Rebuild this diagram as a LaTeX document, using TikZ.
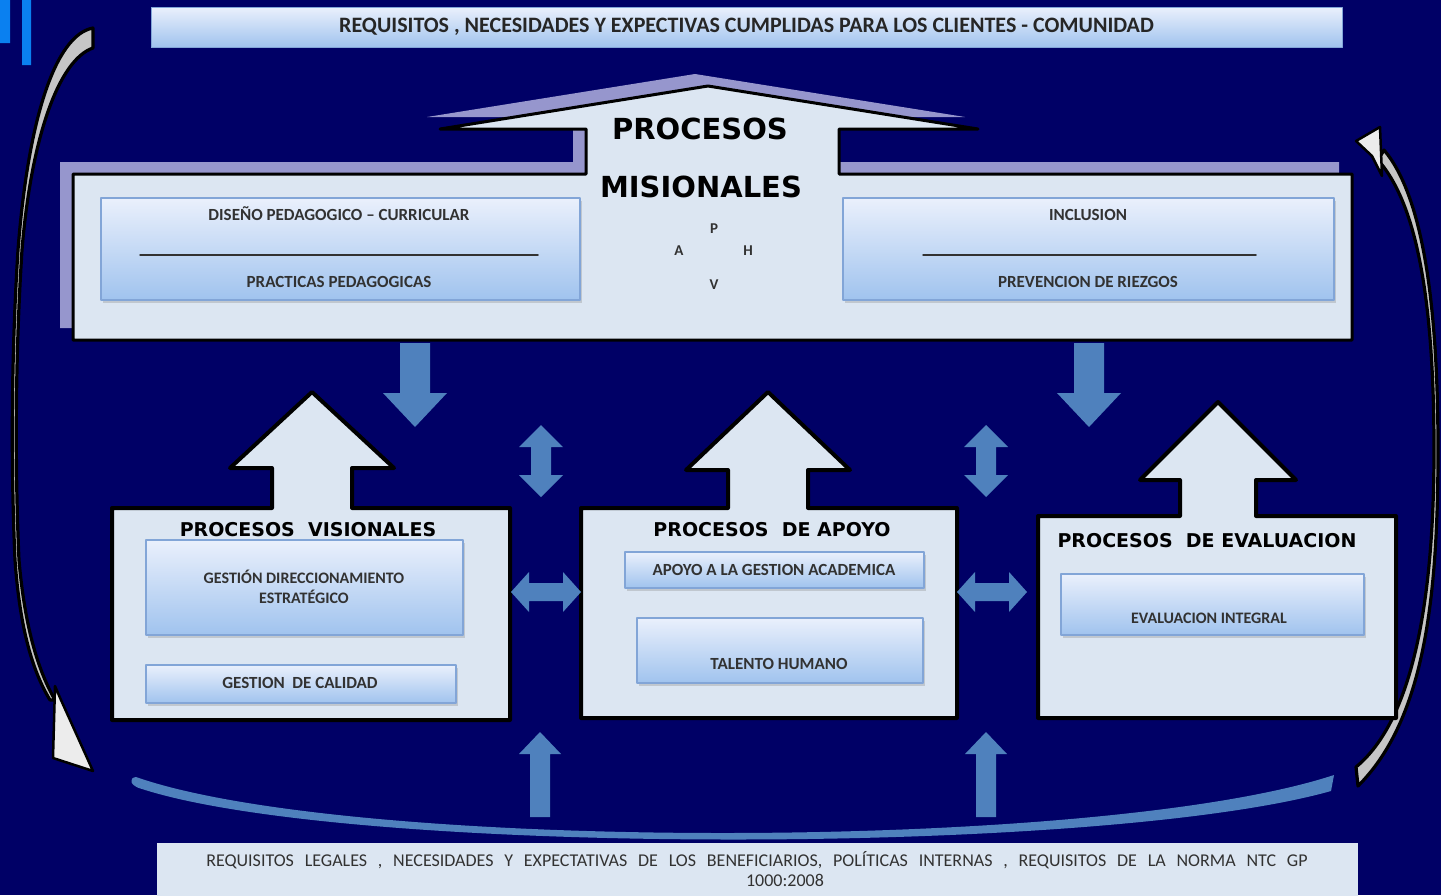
\documentclass[tikz,border=0pt]{standalone}
\usepackage{fontspec}
\setmainfont{Carlito}
\newfontfamily\titfont{DejaVu Sans}
\usetikzlibrary{shadows}
\definecolor{fondo}{RGB}{0,0,102}
\definecolor{claro}{RGB}{220,230,242}
\definecolor{acero}{RGB}{79,129,189}
\definecolor{lila}{RGB}{150,150,205}
\definecolor{celeste}{RGB}{10,128,240}
\definecolor{gradsup}{RGB}{234,240,252}
\definecolor{gradinf}{RGB}{160,195,238}
\definecolor{bordeazul}{RGB}{130,165,215}
\definecolor{texto}{RGB}{50,50,50}
\newcommand\espaciado{\spaceskip=.6em\relax}
\begin{document}
\begin{tikzpicture}[x=1pt, y=-1pt, line join=round, line cap=round,
		marco/.style={fill=claro, draw=black, line width=4pt},
		caja/.style 2 args={draw=bordeazul, line width=1.2pt, top color=gradsup, bottom color=gradinf,
			drop shadow={shadow xshift=1.5pt, shadow yshift=-2.5pt, opacity=.3},
			minimum width=#1, minimum height=#2, inner sep=0pt},
		etiq/.style={font=\bfseries\fontsize{17}{19}\selectfont, text=texto, inner sep=0pt, anchor=base},
		titulo/.style={font=\titfont\bfseries\fontsize{19}{22}\selectfont, inner sep=0pt, anchor=base},
		phva/.style={font=\bfseries\fontsize{15}{17}\selectfont, text=texto, inner sep=0pt, anchor=base},
		curva/.style={fill=gray!45, draw=black, line width=2.5pt},
		flecha/.style={fill=acero}]
		\useasboundingbox (0,0) rectangle (1441,895);
		\fill[fondo] (0,0) rectangle (1441,895);
		\fill[celeste] (0,0) rectangle (10,43) (22,0) rectangle (31,65);
		% flechas curvas de los lados
		\draw[curva, line width=3.2pt] (93,28) .. controls (55,35) and (28,120) .. (18,250) .. controls (11,360) and (11,470) .. (15,560) .. controls (20,630) and (33,672) .. (50,700) -- (55,700) .. controls (39,672) and (25,630) .. (19,560) .. controls (15,470) and (15,360) .. (22,250) .. controls (31,140) and (58,60) .. (93,48) -- cycle;
		\draw[curva, fill=gray!15] (55,686) -- (53,758) -- (93,771) -- (61,700) -- cycle;
		\draw[curva, line width=3.2pt] (1384,150) .. controls (1422,195) and (1438,300) .. (1438,450) .. controls (1438,600) and (1424,720) .. (1358,786) -- (1356,767) .. controls (1413,720) and (1434,600) .. (1434,450) .. controls (1434,305) and (1418,205) .. (1378,160) -- cycle;
		\draw[curva, fill=gray!15] (1356,141) -- (1380,127) -- (1382,176) -- (1372,156) -- cycle;
		\fill[acero] (136,777) .. controls (350,852) and (1100,852) .. (1334,775) -- (1331,791) .. controls (1100,856) and (350,856) .. (142,789) .. controls (130,786) and (128,778) .. (136,777) -- cycle;
		% requisitos
		\node[draw=bordeazul, line width=1pt, top color=gradsup, bottom color=gradinf, minimum width=1191pt, minimum height=40pt, inner sep=0pt,
			font=\bfseries\fontsize{22}{24}\selectfont, text=black!85] (reqtop) at (746.5,27) {REQUISITOS , NECESIDADES Y EXPECTIVAS CUMPLIDAS PARA LOS CLIENTES - COMUNIDAD};
		\node[fill=claro, minimum width=1201pt, minimum height=54pt, inner sep=0pt] (reqbot) at (757.5,870) {};
		\node[font=\fontsize{18}{20}\selectfont\espaciado, text=texto, inner sep=0pt, anchor=base] (reqbot1) at (757,866) {REQUISITOS LEGALES , NECESIDADES Y EXPECTATIVAS DE LOS BENEFICIARIOS, POLÍTICAS INTERNAS , REQUISITOS DE LA NORMA NTC GP};
		\node[font=\fontsize{18}{20}\selectfont, text=texto, inner sep=0pt, anchor=base] (reqbot2) at (785,886) {1000:2008};
		% misionales
		\def\casa{(73,174) -- (586,174) -- (586,129) -- (440,129) -- (708,86) -- (978,129) -- (839,129) -- (839,174) -- (1352,174) -- (1352,340) -- (73,340) -- cycle}
		\fill[lila, shift={(-13,-12)}] \casa;
		\draw[marco, line width=3pt] \casa;
		\node[caja={479pt}{102pt}] (pedag) at (340.5,249) {};
		\node[caja={491pt}{102pt}] (inclu) at (1088.5,249) {};
		\draw[texto, line width=1.5pt] (140,255) -- (538,255) (923,255) -- (1256,255);
		\node[etiq] (disenio) at (339,220) {DISEÑO PEDAGOGICO – CURRICULAR};
		\node[etiq] (practicas) at (339,287) {PRACTICAS PEDAGOGICAS};
		\node[etiq] (inclusion) at (1088,220) {INCLUSION};
		\node[etiq] (prevencion) at (1088,287) {PREVENCION DE RIEZGOS};
		\node[titulo, font=\titfont\bfseries\fontsize{29}{32}\selectfont] (procm) at (700,139) {PROCESOS};
		\node[titulo, font=\titfont\bfseries\fontsize{29}{32}\selectfont] (misio) at (701,197) {MISIONALES};
		\foreach \l/\x/\y in {P/714/233, A/679/255, H/748/255, V/714/289} \node[phva] (phva\l) at (\x,\y) {\l};
		% procesos de abajo
		\foreach \xa/\xb/\yt/\yb/\xc/\yh/\ya/\s/\h in {112/510/508/720/312/468/392/40/82, 581/957/508/718/768/470/392/40/82, 1038/1396/516/718/1218/480/402/38/78}
			\draw[marco] (\xa,\yt) -- (\xc-\s,\yt) -- (\xc-\s,\yh) -- (\xc-\h,\yh) -- (\xc,\ya) -- (\xc+\h,\yh) -- (\xc+\s,\yh) -- (\xc+\s,\yt) -- (\xb,\yt) -- (\xb,\yb) -- (\xa,\yb) -- cycle;
		\node[titulo] (tvision) at (308,536) {PROCESOS~~VISIONALES};
		\node[titulo] (tapoyo) at (772,536) {PROCESOS~~DE APOYO};
		\node[titulo] (teval) at (1207,547) {PROCESOS~~DE EVALUACION};
		\node[caja={317pt}{95pt}] (direc) at (304.5,587.5) {};
		\node[caja={310pt}{38pt}] (calid) at (301,684) {};
		\node[caja={299pt}{36pt}] (apacad) at (774.5,570) {};
		\node[caja={286pt}{65pt}] (talent) at (780,650.5) {};
		\node[caja={303pt}{61pt}] (evint) at (1212.5,604.5) {};
		\node[etiq, font=\bfseries\fontsize{16}{18}\selectfont] (ldirec) at (304,583) {GESTIÓN DIRECCIONAMIENTO};
		\node[etiq, font=\bfseries\fontsize{16}{18}\selectfont] (lestra) at (304,603) {ESTRATÉGICO};
		\node[etiq] (lcalid) at (300,688) {GESTION~~DE CALIDAD};
		\node[etiq] (lapacad) at (774,575) {APOYO A LA GESTION ACADEMICA};
		\node[etiq] (ltalent) at (779,669) {TALENTO HUMANO};
		\node[etiq, font=\bfseries\fontsize{16}{18}\selectfont] (levint) at (1209,623) {EVALUACION INTEGRAL};
		% flechas azules
		\foreach \x in {415,1089}
			\fill[flecha] (\x-15,343) -- (\x+15,343) -- (\x+15,393) -- (\x+32,393) -- (\x,427) -- (\x-32,393) -- (\x-15,393) -- cycle;
		\foreach \x in {541,986}
			\fill[flecha] (\x,425) -- (\x+22,447) -- (\x+10,447) -- (\x+10,475) -- (\x+22,475) -- (\x,497) -- (\x-22,475) -- (\x-10,475) -- (\x-10,447) -- (\x-22,447) -- cycle;
		\foreach \x in {546,992}
			\fill[flecha] (\x-35,592) -- (\x-17,572) -- (\x-17,583) -- (\x+17,583) -- (\x+17,572) -- (\x+35,592) -- (\x+17,612) -- (\x+17,601) -- (\x-17,601) -- (\x-17,612) -- cycle;
		\foreach \x in {540,986}
			\fill[flecha] (\x,732) -- (\x+21,754) -- (\x+10,754) -- (\x+10,817) -- (\x-10,817) -- (\x-10,754) -- (\x-21,754) -- cycle;
	\end{tikzpicture}
\end{document}
